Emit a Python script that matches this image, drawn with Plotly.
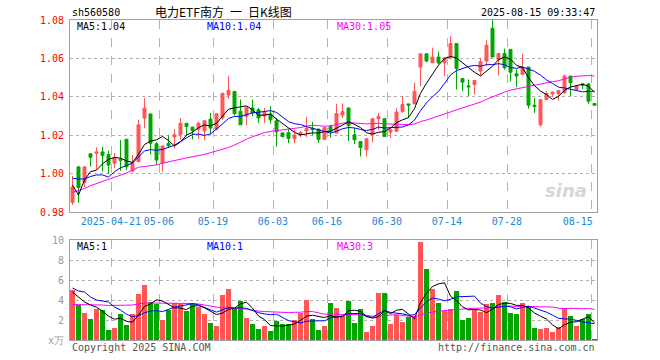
import plotly.graph_objects as go

# ---------------- data ----------------
opens = [0.985, 1.0035, 0.9953, 1.0103, 1.0106, 1.0113, 1.0100, 1.0054, 1.0075, 1.0179,
         1.0014, 1.0062, 1.0289, 1.0311, 1.0155, 1.0054, 1.0157, 1.0191, 1.0202, 1.0262,
         1.0242, 1.0231, 1.0222, 1.0284, 1.0231, 1.0290, 1.0409, 1.0428, 1.0325, 1.0298,
         1.0342, 1.0333, 1.0300, 1.0310, 1.0275, 1.0212, 1.0213, 1.0181, 1.0202, 1.0222,
         1.0236, 1.0232, 1.0178, 1.0245, 1.0211, 1.0305, 1.0342, 1.0202, 1.0167, 1.0124,
         1.0202, 1.0286, 1.0286, 1.0216, 1.0220, 1.0324, 1.0363, 1.0363, 1.0555, 1.0624,
         1.0577, 1.0607, 1.0577, 1.0603, 1.0677, 1.0495, 1.0457, 1.0464, 1.0534, 1.0586,
         1.0757, 1.0595, 1.0626, 1.0647, 1.0520, 1.0516, 1.0555, 1.0356, 1.0254, 1.0385,
         1.0415, 1.0415, 1.0420, 1.0508, 1.0438, 1.0467, 1.0467, 1.0365]
highs = [0.9987, 1.0040, 1.0040, 1.0106, 1.0137, 1.0140, 1.0120, 1.0106, 1.0175, 1.0179,
         1.0097, 1.0280, 1.0393, 1.0311, 1.0165, 1.0144, 1.0200, 1.0231, 1.0289, 1.0262,
         1.0245, 1.0270, 1.0275, 1.0316, 1.0316, 1.0420, 1.0509, 1.0428, 1.0386, 1.0346,
         1.0386, 1.0342, 1.0342, 1.0351, 1.0290, 1.0215, 1.0231, 1.0228, 1.0222, 1.0295,
         1.0270, 1.0232, 1.0240, 1.0255, 1.0363, 1.0365, 1.0342, 1.0237, 1.0167, 1.0185,
         1.0286, 1.0316, 1.0286, 1.0237, 1.0342, 1.0403, 1.0363, 1.0473, 1.0624, 1.0624,
         1.0656, 1.0635, 1.0603, 1.0717, 1.0677, 1.0495, 1.0490, 1.0485, 1.0603, 1.0694,
         1.0799, 1.0626, 1.0651, 1.0647, 1.0542, 1.0624, 1.0555, 1.0394, 1.0385, 1.0430,
         1.0425, 1.0432, 1.0516, 1.0508, 1.0460, 1.0472, 1.0472, 1.0365]
lows = [0.9836, 0.9848, 0.9930, 1.0036, 1.0022, 1.0010, 1.0000, 1.0028, 1.0015, 1.0019,
        1.0007, 1.0062, 1.0236, 1.0100, 1.0045, 1.0010, 1.0134, 1.0132, 1.0176, 1.0200,
        1.0178, 1.0180, 1.0175, 1.0207, 1.0225, 1.0280, 1.0390, 1.0302, 1.0254, 1.0251,
        1.0298, 1.0263, 1.0263, 1.0260, 1.0140, 1.0190, 1.0158, 1.0158, 1.0190, 1.0190,
        1.0200, 1.0161, 1.0178, 1.0188, 1.0211, 1.0290, 1.0170, 1.0153, 1.0089, 1.0089,
        1.0164, 1.0228, 1.0193, 1.0185, 1.0220, 1.0316, 1.0289, 1.0363, 1.0455, 1.0580,
        1.0577, 1.0570, 1.0508, 1.0595, 1.0438, 1.0429, 1.0403, 1.0412, 1.0508, 1.0560,
        1.0607, 1.0511, 1.0542, 1.0481, 1.0450, 1.0516, 1.0338, 1.0316, 1.0246, 1.0385,
        1.0400, 1.0380, 1.0420, 1.0403, 1.0430, 1.0440, 1.0363, 1.0356]
closes = [0.9930, 0.9927, 1.0035, 1.0085, 1.0113, 1.0094, 1.0045, 1.0083, 1.0070, 1.0036,
          1.0057, 1.0254, 1.0341, 1.0158, 1.0071, 1.0144, 1.0145, 1.0202, 1.0262, 1.0245,
          1.0224, 1.0262, 1.0275, 1.0237, 1.0312, 1.0418, 1.0434, 1.0312, 1.0254, 1.0346,
          1.0316, 1.0290, 1.0318, 1.0280, 1.0217, 1.0192, 1.0183, 1.0201, 1.0214, 1.0235,
          1.0228, 1.0178, 1.0240, 1.0220, 1.0313, 1.0323, 1.0250, 1.0176, 1.0136, 1.0181,
          1.0286, 1.0298, 1.0193, 1.0228, 1.0321, 1.0360, 1.0356, 1.0429, 1.0624, 1.0586,
          1.0607, 1.0577, 1.0603, 1.0677, 1.0548, 1.0476, 1.0452, 1.0485, 1.0583, 1.0668,
          1.0607, 1.0626, 1.0551, 1.0528, 1.0508, 1.0551, 1.0356, 1.0349, 1.0385, 1.0417,
          1.0425, 1.0432, 1.0508, 1.0473, 1.0455, 1.0460, 1.0377, 1.0356]
volumes = [5.0, 3.5, 2.7, 2.1, 3.1, 3.0, 1.0, 1.2, 2.6, 1.5,
           2.6, 4.6, 5.5, 3.8, 3.6, 2.0, 3.0, 3.7, 3.6, 2.9,
           3.7, 3.3, 2.6, 1.7, 1.4, 4.5, 5.1, 3.2, 3.9, 2.2,
           1.6, 1.1, 1.4, 0.9, 1.9, 1.6, 1.6, 2.0, 2.7, 4.0,
           2.1, 1.0, 1.4, 3.7, 3.2, 2.4, 3.9, 1.7, 3.1, 0.8,
           1.4, 4.7, 4.7, 1.6, 2.5, 1.8, 2.3, 2.4, 9.8, 7.1,
           5.1, 3.7, 2.9, 3.1, 4.9, 2.0, 2.2, 3.1, 2.8, 3.6,
           3.7, 4.5, 3.8, 2.7, 2.6, 3.7, 3.3, 1.2, 1.1, 1.2,
           0.8, 1.3, 3.2, 2.4, 1.4, 2.1, 2.6, 0.1]

# moving-average values before the window is filled
price_ma5_head = [0.9940, 0.9888, 0.9967, 1.0010]
price_ma10_head = [0.9976, 0.9972, 0.9972, 0.9985, 0.9993, 0.9993, 0.9982, 1.0010, 1.0030]
price_ma30_head = [0.9902, 0.9910, 0.9922, 0.9937, 0.9948, 0.9958, 0.9968, 0.9980, 0.9990, 1.0003,
                   1.0018, 1.0033, 1.0037, 1.0040, 1.0045, 1.0054, 1.0062, 1.0068, 1.0075, 1.0082,
                   1.0088, 1.0093, 1.0100, 1.0109, 1.0117, 1.0127, 1.0136, 1.0149, 1.0166]
vol_ma5_head = [4.8, 4.3, 3.8, 3.5]
vol_ma10_head = [5.2, 4.9, 4.8, 4.3, 4.0, 3.9, 3.8, 3.3, 3.0]
vol_ma30_head = [3.55, 3.55, 3.55, 3.5, 3.5, 3.5, 3.45, 3.45, 3.45, 3.45,
                 3.5, 3.6, 3.7, 3.7, 3.7, 3.7, 3.7, 3.7, 3.7, 3.7,
                 3.65, 3.6, 3.5, 3.35, 3.25, 3.2, 3.2, 3.2, 3.15]

tick_labels = ["2025-04-21", "05-06", "05-19", "06-03", "06-16", "06-30", "07-14", "07-28", "08-15"]
tick_index = [7, 15, 24, 34, 43, 53, 63, 73, 87]

code = "sh560580"
title = "电力ETF南方\u2002一\u2002日K线图"
stamp = "2025-08-15 09:33:47"

# ---------------- helpers ----------------
W, H = 660, 360
def px(x):
    return x / W
def py(y):
    return 1 - y / H

def mavg(vals, n, head):
    out = []
    for i in range(len(vals)):
        if i < n - 1:
            out.append(head[i])
        else:
            out.append(sum(vals[i - n + 1:i + 1]) / n)
    return out

idx = list(range(len(closes)))
RED = "#ff5555"
GREEN = "#00a600"
MONO = "DejaVu Sans Mono"

pma5 = mavg(closes, 5, price_ma5_head)
pma10 = mavg(closes, 10, price_ma10_head)
pma30 = mavg(closes, 30, price_ma30_head)
vma5 = mavg(volumes, 5, vol_ma5_head)
vma10 = mavg(volumes, 10, vol_ma10_head)
vma30 = mavg(volumes, 30, vol_ma30_head)

vol_colors = [RED if c >= o else GREEN for o, c in zip(opens, closes)]

fig = go.Figure()
fig.add_trace(go.Candlestick(
    x=idx, open=opens, high=highs, low=lows, close=closes,
    increasing=dict(line=dict(color=RED, width=1), fillcolor=RED),
    decreasing=dict(line=dict(color=GREEN, width=1), fillcolor=GREEN),
    whiskerwidth=0, xaxis="x", yaxis="y", showlegend=False, hoverinfo="skip"))
for vals, col in [(pma30, "#ff00ff"), (pma10, "#0000ff"), (pma5, "#000000")]:
    fig.add_trace(go.Scatter(x=idx, y=vals, mode="lines", line=dict(color=col, width=1),
                             xaxis="x", yaxis="y", showlegend=False, hoverinfo="skip"))

fig.add_trace(go.Bar(x=idx, y=volumes, marker=dict(color=vol_colors, line=dict(width=0)),
                     width=0.83, xaxis="x2", yaxis="y2", showlegend=False, hoverinfo="skip"))
for vals, col in [(vma30, "#ff00ff"), (vma10, "#0000ff"), (vma5, "#000000")]:
    fig.add_trace(go.Scatter(x=idx, y=vals, mode="lines", line=dict(color=col, width=1),
                             xaxis="x2", yaxis="y2", showlegend=False, hoverinfo="skip"))

n = len(closes)
xr = [-0.4167, n - 1 + 0.4167]
grid_x = [i - 0.42 for i in tick_index]
label_x = [i - 0.6 for i in tick_index]
label_x[-1] = tick_index[-1] - 2.8  # last label kept inside the frame
xdom = [px(70), px(597)]
FRAME = "#a0a0a0"

minor_grid = dict(tickmode="array", tickvals=grid_x, showgrid=True, griddash="dash",
                  gridcolor="#b4b4b4", gridwidth=1, ticks="")

fig.update_layout(
    template="none",
    width=W, height=H, margin=dict(l=0, r=0, t=0, b=0, pad=0), autosize=False,
    paper_bgcolor="white", plot_bgcolor="white", boxgap=0.3, bargap=0,
    font=dict(family=MONO, size=10, color="#000"),
    xaxis=dict(domain=xdom, range=xr, anchor="y", rangeslider=dict(visible=False),
               automargin=False,
               tickmode="array", tickvals=label_x, ticktext=tick_labels, showgrid=False,
               minor=minor_grid, ticks="", tickfont=dict(family=MONO, size=10, color="#1a8ad4"),
               showline=True, mirror=True, linecolor=FRAME, linewidth=1, zeroline=False),
    yaxis=dict(domain=[py(212), py(20)], range=[0.98, 1.08], anchor="x", automargin=False,
               tickmode="array", tickvals=[0.98, 1.00, 1.02, 1.04, 1.06, 1.08],
               ticktext=["0.98", "1.00", "1.02", "1.04", "1.06", "1.08"],
               showgrid=True, griddash="dot", gridcolor="#b0b0b0", ticks="",
               ticklabelstandoff=3,
               tickfont=dict(family=MONO, size=10, color="red"),
               showline=True, mirror=True, linecolor=FRAME, linewidth=1, zeroline=False),
    xaxis2=dict(domain=xdom, range=xr, anchor="y2", showticklabels=False, showgrid=False,
                automargin=False,
                tickmode="array", tickvals=[], minor=minor_grid, ticks="",
                showline=True, mirror=True, linecolor=FRAME, linewidth=1, zeroline=False),
    yaxis2=dict(domain=[py(340), py(240)], range=[0, 10], anchor="x2", automargin=False,
                tickmode="array", tickvals=[0, 2, 4, 6, 8, 10],
                ticktext=["x万", "2", "4", "6", "8", "10"],
                showgrid=True, griddash="dot", gridcolor="#b0b0b0", ticks="",
                ticklabelstandoff=3,
                tickfont=dict(family=MONO, size=10, color="#999999"),
                showline=True, mirror=True, linecolor=FRAME, linewidth=1, zeroline=False),
)

def note(text, x, y, color="#000", size=10, anchor="left", family=MONO, **kw):
    fig.add_annotation(text=text, x=px(x), y=py(y), xref="paper", yref="paper",
                       xanchor=anchor, yanchor="middle", showarrow=False,
                       font=dict(family=family, size=size, color=color), **kw)

note(code, 70, 12.5)
note(title, 223, 12, size=12, anchor="center", family="Noto Sans CJK SC")
note(stamp, 597, 12.5, anchor="right")
note("MA5:%.2f" % pma5[-1], 75, 26.5)
note("MA10:%.2f" % pma10[-1], 205, 26.5, color="#0000ff")
note("MA30:%.2f" % pma30[-1], 335, 26.5, color="#ff00ff")
note("MA5:%d" % int(vma5[-1]), 75, 246)
note("MA10:%d" % int(vma10[-1]), 205, 246, color="#0000ff")
note("MA30:%d" % int(vma30[-1]), 335, 246, color="#ff00ff")
note("Copyright 2025 SINA.COM", 70, 347, color="#555555")
note("http://finance.sina.com.cn", 597, 347, color="#555555", anchor="right")
note("<i><b>sina</b></i>", 566, 190, color="#d6d6d6", size=18, anchor="center", family="DejaVu Sans")

fig.write_html("out.html",
               config={"displayModeBar": False, "staticPlot": True},
               post_script="document.body.style.margin='0';document.body.style.padding='0';"
                           "document.body.style.overflow='hidden';")
